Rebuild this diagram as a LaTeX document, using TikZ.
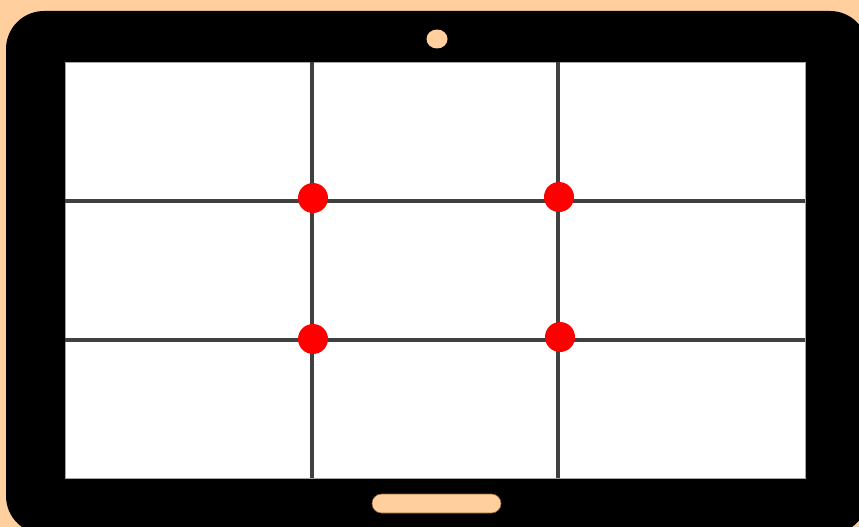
\documentclass[tikz,border=0pt]{standalone}
\definecolor{peach}{RGB}{255,207,158}
\definecolor{gridgray}{RGB}{64,64,64}
\definecolor{dotred}{RGB}{255,0,0}
\tikzset{
  gridline/.style={draw=gridgray,line width=4pt},
  dot/.style={circle,fill=dotred,minimum size=30pt,inner sep=0pt},
}
\begin{document}
\begin{tikzpicture}[x=1pt,y=-1pt]
\useasboundingbox (0,0) rectangle (859,527);
\clip (0,0) rectangle (859,527);
\fill[peach] (0,0) rectangle (859,527);
\fill[black,rounded corners=38pt] (6,11) rectangle (868,534);
\fill[white] (65,62) rectangle (805,478);
\draw[gray!70,line width=0.5pt] (65,62) rectangle (805,478);
\coordinate (v1t) at (312,62); \coordinate (v1b) at (312,478);
\coordinate (v2t) at (558,62); \coordinate (v2b) at (558,478);
\coordinate (h1l) at (65,201); \coordinate (h1r) at (805,201);
\coordinate (h2l) at (65,340); \coordinate (h2r) at (805,340);
\draw[gridline] (v1t) -- (v1b);
\draw[gridline] (v2t) -- (v2b);
\draw[gridline] (h1l) -- (h1r);
\draw[gridline] (h2l) -- (h2r);
\node[dot] (d1) at (313,198) {};
\node[dot] (d2) at (559,197) {};
\node[dot] (d3) at (313,339) {};
\node[dot] (d4) at (560,337) {};
\fill[peach] (437,39) ellipse [x radius=10.5pt, y radius=9.5pt];
\filldraw[fill=peach,draw={rgb,255:red,150;green,100;blue,60},line width=0.6pt,rounded corners=9.5pt] (372,494) rectangle (501,513);
\end{tikzpicture}
\end{document}
